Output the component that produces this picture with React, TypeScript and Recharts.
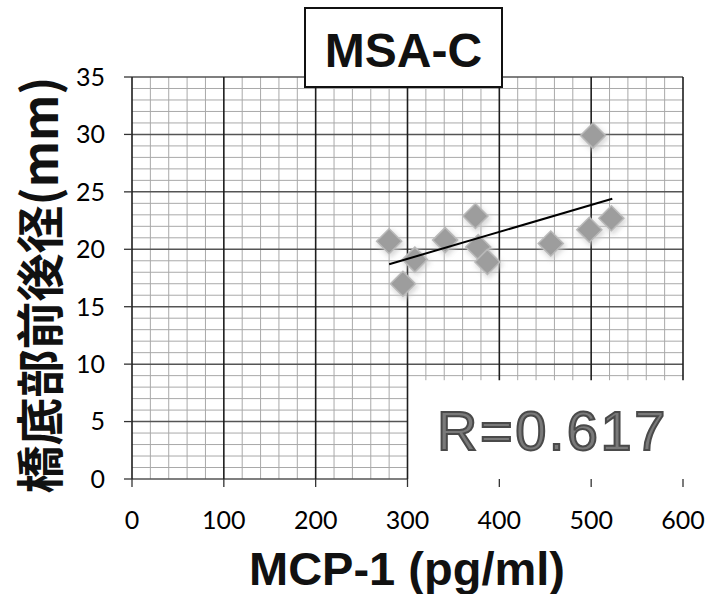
import { ScatterChart, Scatter, XAxis, YAxis, ReferenceLine } from "recharts";

// MCP-1 (pg/ml) vs 橋底部前後径 (mm), MSA-C group
const MCP1 = [280, 308, 295, 341, 374, 377, 387, 456, 498, 522, 502];
const DIAMETER = [20.7, 19.1, 17.0, 20.8, 22.9, 20.2, 18.9, 20.5, 21.7, 22.7, 29.9];

// regression line end points
const FIT_X = [280, 523];
const FIT_Y = [18.7, 24.4];

const X_TICKS = [0, 100, 200, 300, 400, 500, 600];
const Y_TICKS = [0, 5, 10, 15, 20, 25, 30, 35];
const X_MINOR = [
  20, 40, 60, 80, 120, 140, 160, 180, 220, 240, 260, 280, 320, 340, 360, 380,
  420, 440, 460, 480, 520, 540, 560, 580,
];
const Y_MINOR = [
  1, 2, 3, 4, 6, 7, 8, 9, 11, 12, 13, 14, 16, 17, 18, 19, 21, 22, 23, 24, 26, 27,
  28, 29, 31, 32, 33, 34,
];

// the R= label covers the grid below/right of this corner
const X_CUT = 300;
const Y_CUT = 8.6;

const points = MCP1.map((x, i) => ({ x, y: DIAMETER[i] }));
const fit = FIT_X.map((x, i) => ({ x, y: FIT_Y[i] }));

const MINOR = { stroke: "#a9a9a9", strokeWidth: 1 };
const MAJOR_V = { stroke: "#1e1e1e", strokeWidth: 1.6 };
const MAJOR_H = { stroke: "#555", strokeWidth: 1.5 };

function gridV(v: number, style: any) {
  if (v > X_CUT) {
    return (
      <ReferenceLine
        key={"v" + v}
        segment={[
          { x: v, y: Y_CUT },
          { x: v, y: 35 },
        ]}
        {...style}
      />
    );
  }
  return <ReferenceLine key={"v" + v} x={v} {...style} />;
}

function gridH(v: number, style: any) {
  if (v < Y_CUT) {
    return (
      <ReferenceLine
        key={"h" + v}
        segment={[
          { x: 0, y: v },
          { x: X_CUT, y: v },
        ]}
        {...style}
      />
    );
  }
  return <ReferenceLine key={"h" + v} y={v} {...style} />;
}

function Diamond(props: any) {
  const { cx, cy } = props;
  const r = 12.5;
  const pts = (dx: number, dy: number, rr: number) =>
    `${cx + dx},${cy + dy - rr} ${cx + dx + rr},${cy + dy} ${cx + dx},${cy + dy + rr} ${cx + dx - rr},${cy + dy}`;
  return (
    <g>
      <polygon points={pts(1.5, 2.5, r + 2)} fill="#c8c8c8" opacity={0.7} filter="url(#soft)" />
      <polygon points={pts(0, 0, r)} fill="#9d9d9d" stroke="#b9b9b9" strokeWidth={1.5} />
    </g>
  );
}

const tickFont = { fontFamily: "Lato, 'Noto Sans', sans-serif", fontSize: 25, fill: "#000" };

export default function App() {
  return (
    <div style={{ position: "absolute", left: 0, top: 0, width: 705, height: 594, background: "#fff" }}>
      <ScatterChart width={705} height={594} margin={{ top: 77, right: 22, bottom: 65, left: 72 }}>
        <XAxis
          type="number"
          dataKey="x"
          domain={[0, 600]}
          ticks={X_TICKS}
          axisLine={false}
          tickLine={{ stroke: "#333", strokeWidth: 1.3 }}
          tickSize={8}
          tickMargin={24}
          height={50}
          tick={tickFont}
          allowDataOverflow
          label={{
            content: () => (
              <text
                x={407}
                y={585}
                textAnchor="middle"
                fontFamily="'Liberation Sans', Arial, sans-serif"
                fontWeight="bold"
                fontSize={47}
                fill="#111"
              >
                MCP-1 (pg/ml)
              </text>
            ),
          }}
        />
        <YAxis
          type="number"
          dataKey="y"
          domain={[0, 35]}
          ticks={Y_TICKS}
          axisLine={false}
          tickLine={{ stroke: "#333", strokeWidth: 1.3 }}
          tickSize={8}
          tickMargin={19}
          width={60}
          tick={tickFont}
          allowDataOverflow
          label={{
            content: () => (
              <text
                transform="translate(37,285) rotate(-90)"
                textAnchor="middle"
                dominantBaseline="central"
                fontFamily="'Noto Sans CJK JP', sans-serif"
                fontWeight="bold"
                fontSize={48}
                fill="#111"
              >
                橋底部前後径(mm)
              </text>
            ),
          }}
        />
        {X_MINOR.map((v) => gridV(v, MINOR))}
        {Y_MINOR.map((v) => gridH(v, MINOR))}
        {Y_TICKS.map((v) => gridH(v, MAJOR_H))}
        {X_TICKS.map((v) => gridV(v, MAJOR_V))}
        <Scatter data={points} shape={<Diamond />} isAnimationActive={false} />
        <Scatter
          data={fit}
          line={{ stroke: "#000", strokeWidth: 2 }}
          shape={() => <g />}
          isAnimationActive={false}
        />
      </ScatterChart>
      <svg
        width={705}
        height={594}
        style={{ position: "absolute", left: 0, top: 0, pointerEvents: "none" }}
      >
        <defs>
          <filter id="soft" x="-50%" y="-50%" width="200%" height="200%">
            <feGaussianBlur stdDeviation="2.5" />
          </filter>
        </defs>
        <rect x={305} y={8} width={197} height={79} fill="#fff" stroke="#111" strokeWidth={2} />
        <text
          x={403.5}
          y={67}
          textAnchor="middle"
          fontFamily="'Liberation Sans', Arial, sans-serif"
          fontWeight="bold"
          fontSize={48}
          fill="#111"
        >
          MSA-C
        </text>
        <text
          x={437}
          y={450}
          fontFamily="'Liberation Sans', Arial, sans-serif"
          fontSize={56}
          letterSpacing={2.5}
          fill="#7a7a7a"
          stroke="#4a4a4a"
          strokeWidth={2}
        >
          R=0.617
        </text>
      </svg>
    </div>
  );
}
